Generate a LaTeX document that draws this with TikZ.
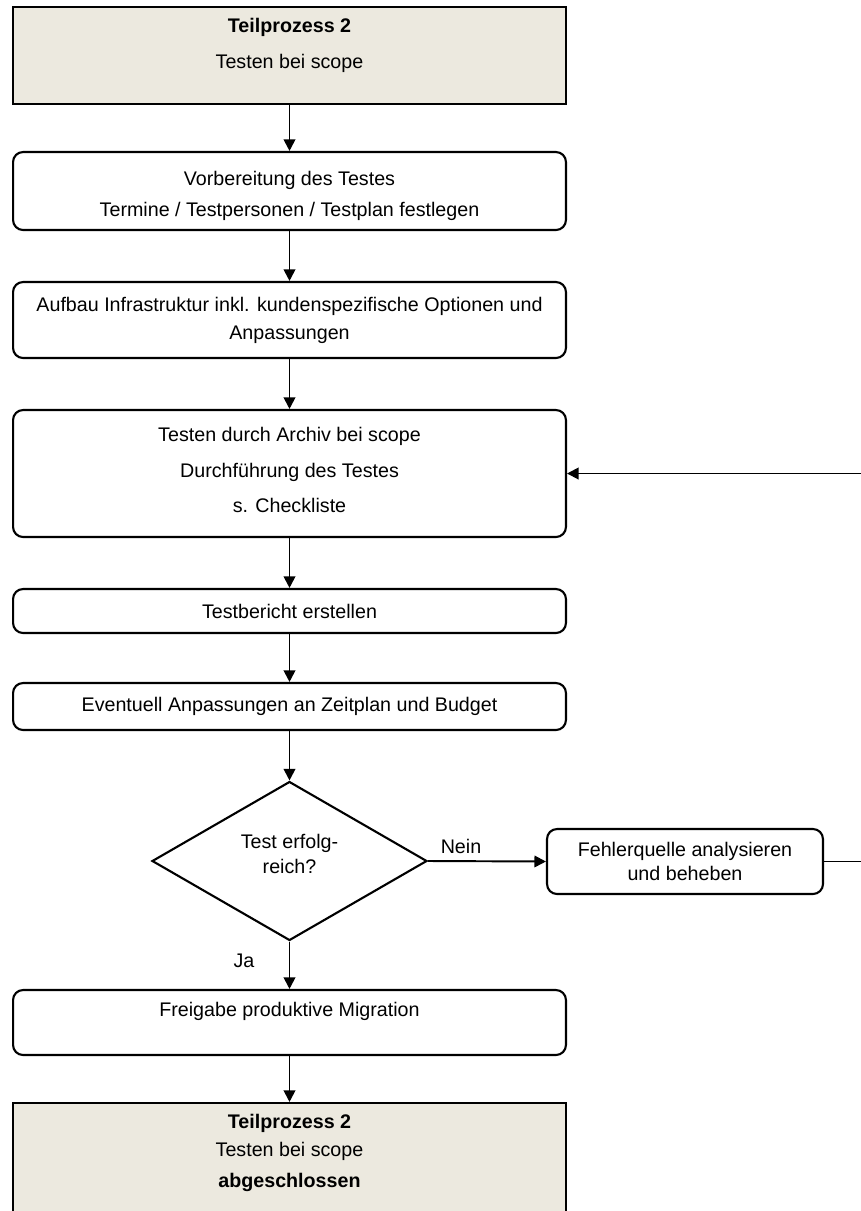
\documentclass[tikz,border=0pt]{standalone}
\usepackage{fontspec}
\setmainfont{Liberation Sans}
\usetikzlibrary{positioning, arrows.meta, shapes.geometric}
\definecolor{beige}{RGB}{236,233,223}
\newcommand{\stdfont}{\fontsize{11.2}{13.5}\selectfont}
\tikzset{
  box/.style={draw, rounded corners=0.2cm, line width=1.2pt, minimum width=11.06cm, align=center, font=\stdfont},
  endbox/.style={draw, fill=beige, line width=1.2pt, minimum width=11.06cm},
  txt/.style={font=\stdfont, inner sep=0pt, align=center},
  flow/.style={-{Triangle[length=2.3mm,width=2.3mm]}, line width=1.1pt},
}

\begin{document}
\begin{tikzpicture}[x=0.02cm, y=-0.02cm]
\useasboundingbox (0,0) rectangle (861,1211);

\node[endbox, minimum height=1.94cm] (start) at (289.5,55.5) {};
\node[txt] (start-txt) at (289.5,45) {\textbf{Teilprozess 2}\\[6.9pt]Testen bei scope};

\node[box, minimum height=1.56cm] (vorb) at (289.5,191) {};
\node[txt] (vorb-txt) at (289.5,196) {Vorbereitung des Testes\\[4pt]Termine / Testpersonen / Testplan festlegen};
\node[box, minimum height=1.52cm] (aufbau) at (289.5,320) {Aufbau Infrastruktur inkl. kundenspezifische Optionen und\\[2.4pt]Anpassungen};
\node[box, minimum height=2.54cm] (testen) at (289.5,473.5) {};
\node[txt] (testen-txt) at (289.5,470) {Testen durch Archiv bei scope\\[6.6pt]Durchführung des Testes\\[6.6pt]s. Checkliste};
\node[box, minimum height=0.88cm] (bericht) at (289.5,611) {Testbericht erstellen};
\node[box, minimum height=0.94cm] (anpass) at (289.5,706.5) {Eventuell Anpassungen an Zeitplan und Budget};

\node[draw, diamond, line width=1.2pt, minimum width=5.5cm, minimum height=3.18cm, inner sep=0pt] (frage) at (289.5,861) {};
\node[txt] (frage-txt) at (289.5,854) {Test erfolg-\\[1.2pt]reich?};

\node[box, minimum width=5.52cm, minimum height=1.3cm] (fehler) at (685,861.5) {Fehlerquelle analysieren\\und beheben};

\node[box, minimum height=1.3cm] (freigabe) at (289.5,1022.5) {};
\node[txt, anchor=base] (freigabe-txt) at (289.5,1016) {Freigabe produktive Migration};

\node[endbox, minimum height=2.34cm] (ende) at (289.5,1161.5) {};
\node[txt] (ende-txt) at (289.5,1153) {\textbf{Teilprozess 2}\\[2.4pt]Testen bei scope\\[4.2pt]\textbf{abgeschlossen}};

\draw[flow] (start) -- (vorb);
\draw[flow] (vorb) -- (aufbau);
\draw[flow] (aufbau) -- (testen);
\draw[flow] (testen) -- (bericht);
\draw[flow] (bericht) -- (anpass);
\draw[flow] (anpass) -- (frage);
\draw[flow] (frage.east) -- (fehler.west);
\draw[flow] (frage.south) -- (freigabe);
\draw[flow] (freigabe) -- (ende);

\coordinate (rueck) at (870,473.5);
\draw[flow] (fehler.east) -| (rueck) -- (testen.east);

\node[txt, anchor=base] (nein) at (461,853) {Nein};
\node[txt, anchor=base] (ja) at (244,967) {Ja};
\end{tikzpicture}
\end{document}
